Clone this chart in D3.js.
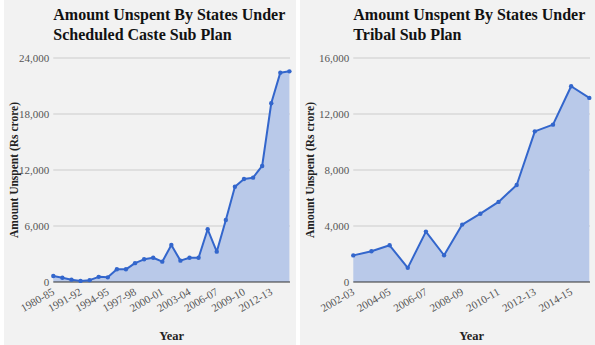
<!DOCTYPE html>
<html>
<head>
<meta charset="utf-8">
<script src="https://cdn.jsdelivr.net/npm/d3@7"></script>
<style>
  body { margin: 0; background: #ffffff; }
  svg { display: block; }
</style>
</head>
<body>
<svg id="chart" width="595" height="345"></svg>
<script>
// ---- Data ----
const scYears = ["1980-85","1985-90","1990-91","1991-92","1992-93","1993-94","1994-95","1995-96","1996-97","1997-98","1998-99","1999-00","2000-01","2001-02","2002-03","2003-04","2004-05","2005-06","2006-07","2007-08","2008-09","2009-10","2010-11","2011-12","2012-13","2013-14","2014-15"];
const scValues = [650,450,250,120,200,550,500,1360,1360,2020,2430,2600,2180,3960,2290,2600,2600,5650,3250,6640,10210,11040,11180,12430,19150,22430,22570];
const scTickLabels = ["1980-85","1991-92","1994-95","1997-98","2000-01","2003-04","2006-07","2009-10","2012-13"];
const scYTicks = [0,6000,12000,18000,24000];

const tspYears = ["2002-03","2003-04","2004-05","2005-06","2006-07","2007-08","2008-09","2009-10","2010-11","2011-12","2012-13","2013-14","2014-15","2015-16"];
const tspValues = [1900,2200,2620,1010,3600,1910,4100,4880,5720,6930,10760,11240,13980,13150];
const tspTickLabels = ["2002-03","2004-05","2006-07","2008-09","2010-11","2012-13","2014-15"];
const tspYTicks = [0,4000,8000,12000,16000];

const titles = [
  ["Amount Unspent By States Under", "Scheduled Caste Sub Plan"],
  ["Amount Unspent By States Under", "Tribal Sub Plan"]
];
const yAxisTitle = "Amount Unspent (Rs crore)";
const xAxisTitle = "Year";

// ---- Drawing ----
const svg = d3.select("#chart");
const serif = "'Liberation Serif', 'Times New Roman', serif";

function panel(opts) {
  const g = svg.append("g");
  g.append("rect")
    .attr("x", opts.px).attr("y", 0)
    .attr("width", opts.pw).attr("height", 345)
    .attr("fill", "#f2f2f2");

  const x = d3.scalePoint().domain(opts.cats).range([opts.x0, opts.x1]);
  const y = d3.scaleLinear().domain([0, opts.ymax]).range([282, 58]);

  g.append("g").selectAll("line")
    .data(opts.yticks.filter(d => d > 0))
    .join("line")
    .attr("x1", opts.x0).attr("x2", opts.gx1)
    .attr("y1", d => y(d)).attr("y2", d => y(d))
    .attr("stroke", "#cccccc").attr("stroke-width", 1);

  g.append("g").selectAll("text")
    .data(opts.yticks)
    .join("text")
    .attr("x", opts.x0 - 4)
    .attr("y", d => y(d) + 3.5)
    .attr("text-anchor", "end")
    .attr("font-family", serif)
    .attr("font-size", 11)
    .attr("fill", "#555555")
    .text(d => d3.format(",")(d));

  const area = d3.area()
    .x((d, i) => x(opts.cats[i]))
    .y0(y(0))
    .y1(d => y(d));
  g.append("path")
    .datum(opts.values)
    .attr("d", area)
    .attr("fill", "#b9c9e9");

  g.append("line")
    .attr("x1", opts.x0).attr("x2", opts.gx1)
    .attr("y1", y(0)).attr("y2", y(0))
    .attr("stroke", "#333333").attr("stroke-width", 1.2);

  const line = d3.line()
    .x((d, i) => x(opts.cats[i]))
    .y(d => y(d));
  g.append("path")
    .datum(opts.values)
    .attr("d", line)
    .attr("fill", "none")
    .attr("stroke", "#3366cc")
    .attr("stroke-width", 2)
    .attr("stroke-linejoin", "round");

  g.append("g").selectAll("circle")
    .data(opts.values)
    .join("circle")
    .attr("cx", (d, i) => x(opts.cats[i]))
    .attr("cy", d => y(d))
    .attr("r", 2.2)
    .attr("fill", "#3366cc");

  g.append("g").selectAll("text")
    .data(opts.ticks)
    .join("text")
    .attr("transform", d => `translate(${x(d) + 2},${y(0) + 12}) rotate(-30)`)
    .attr("text-anchor", "end")
    .attr("font-family", serif)
    .attr("font-size", 11)
    .attr("fill", "#555555")
    .text(d => d);

  g.append("text")
    .attr("x", opts.x0).attr("y", 20)
    .attr("font-family", serif).attr("font-weight", "bold")
    .attr("font-size", 16).attr("fill", "#111111")
    .text(opts.title[0]);
  g.append("text")
    .attr("x", opts.x0).attr("y", 40)
    .attr("font-family", serif).attr("font-weight", "bold")
    .attr("font-size", 16).attr("fill", "#111111")
    .text(opts.title[1]);

  g.append("text")
    .attr("transform", `translate(${opts.px + 14},170) rotate(-90)`)
    .attr("text-anchor", "middle")
    .attr("font-family", serif).attr("font-weight", "bold")
    .attr("font-size", 11.5).attr("fill", "#222222")
    .text(yAxisTitle);
  g.append("text")
    .attr("x", (opts.x0 + opts.gx1) / 2).attr("y", 340)
    .attr("text-anchor", "middle")
    .attr("font-family", serif).attr("font-weight", "bold")
    .attr("font-size", 12.5).attr("fill", "#222222")
    .text(xAxisTitle);
}

panel({px: 4, pw: 292, cats: scYears, values: scValues, ticks: scTickLabels,
       yticks: scYTicks, ymax: 24000, x0: 53.3, x1: 289.4, gx1: 290, title: titles[0]});
panel({px: 300, pw: 295, cats: tspYears, values: tspValues, ticks: tspTickLabels,
       yticks: tspYTicks, ymax: 16000, x0: 353.3, x1: 589.3, gx1: 590, title: titles[1]});
</script>
</body>
</html>
